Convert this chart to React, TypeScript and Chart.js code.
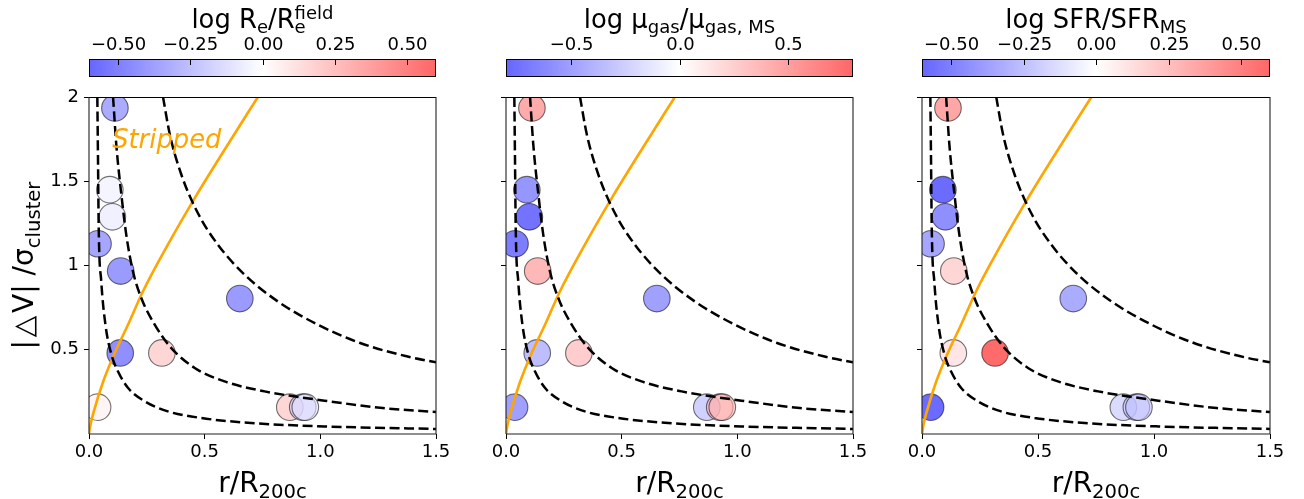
import React, { useEffect, useRef } from 'react';
import { Chart, registerables } from 'chart.js';

Chart.register(...registerables);

// ---------- data ----------
const galaxyR = [0.112, 0.09, 0.101, 0.039, 0.137, 0.652, 0.135, 0.315, 0.037, 0.868, 0.924, 0.935];
const galaxyV = [1.935, 1.45, 1.289, 1.129, 0.967, 0.804, 0.481, 0.481, 0.159, 0.159, 0.159, 0.159];

const logReRatio = [-0.33, -0.04, -0.06, -0.35, -0.39, -0.39, -0.44, 0.16, 0.04, 0.16, -0.12, -0.07];
const logMuGas = [0.44, -0.55, -0.73, -0.68, 0.37, -0.5, -0.34, 0.26, -0.5, -0.24, 0.24, 0.24];
const logSfrRatio = [0.35, -0.58, -0.44, -0.35, 0.16, -0.33, 0.1, 0.58, -0.58, -0.14, -0.14, -0.14];

const innerX = [0.036, 0.039, 0.042, 0.053, 0.071, 0.097, 0.125, 0.169, 0.241, 0.341, 0.485, 0.701, 1.018, 1.5];
const innerY = [2.0, 1.618, 1.223, 0.906, 0.649, 0.471, 0.372, 0.273, 0.194, 0.134, 0.095, 0.065, 0.045, 0.03];
const middleX = [0.104, 0.118, 0.14, 0.161, 0.19, 0.226, 0.284, 0.356, 0.457, 0.586, 0.759, 1.018, 1.27, 1.5];
const middleY = [2.0, 1.717, 1.42, 1.183, 0.965, 0.807, 0.649, 0.51, 0.392, 0.312, 0.253, 0.198, 0.154, 0.13];
const outerX = [0.32, 0.349, 0.399, 0.471, 0.557, 0.673, 0.816, 0.989, 1.172, 1.373, 1.5];
const outerY = [2.0, 1.78, 1.54, 1.31, 1.124, 0.945, 0.787, 0.649, 0.54, 0.461, 0.425];
const strippedX = [0, 0.005, 0.02, 0.061, 0.111, 0.169, 0.233, 0.341, 0.457, 0.586, 0.73];
const strippedY = [0, 0.045, 0.13, 0.31, 0.48, 0.65, 0.846, 1.124, 1.4, 1.687, 2.0];

const xTicks = [0, 0.5, 1, 1.5];
const xTickLabels = ['0.0', '0.5', '1.0', '1.5'];
const yTicks = [0.5, 1, 1.5, 2];
const yTickLabels = ['0.5', '1', '1.5', '2'];

const cbarTicksA = [-0.5, -0.25, 0, 0.25, 0.5];
const cbarLabelsA = ['\u22120.50', '\u22120.25', '0.00', '0.25', '0.50'];
const cbarTicksB = [-0.5, 0, 0.5];
const cbarLabelsB = ['\u22120.5', '0.0', '0.5'];
const cbarRangeRe = [-0.6, 0.6];
const cbarRangeMu = [-0.8, 0.8];
const cbarRangeSfr = [-0.6, 0.6];

// ---------- helpers ----------
const FAMILY = '"DejaVu Sans", sans-serif';
const W = 1304;
const H = 499;
const AREA_TOP = 97;
const AREA_BOTTOM = 434;

function bwr(n: number): [number, number, number] {
  const t = Math.max(0, Math.min(1, n));
  if (t < 0.5) return [2 * t, 2 * t, 1];
  return [1, 2 * (1 - t), 2 * (1 - t)];
}
function cmap(v: number, lo: number, hi: number, alpha: number) {
  const [r, g, b] = bwr((v - lo) / (hi - lo));
  return `rgba(${Math.round(r * 255)},${Math.round(g * 255)},${Math.round(b * 255)},${alpha})`;
}

type Part = { t: string; s?: number; dy?: number; sup?: string; supDy?: number; italic?: boolean };

function partFont(size: number, italic?: boolean) {
  return `${italic ? 'italic ' : ''}${size}px ${FAMILY}`;
}

function drawRich(ctx: CanvasRenderingContext2D, parts: Part[], x: number, y: number, base: number, align: 'center' | 'left') {
  const widths = parts.map((p) => {
    const sz = base * (p.s ?? 1);
    ctx.font = partFont(sz, p.italic);
    let w = ctx.measureText(p.t).width;
    if (p.sup) w = Math.max(w, ctx.measureText(p.sup).width);
    return w;
  });
  const total = widths.reduce((a, b) => a + b, 0);
  let cx = align === 'center' ? x - total / 2 : x;
  ctx.textAlign = 'left';
  ctx.textBaseline = 'alphabetic';
  parts.forEach((p, i) => {
    const sz = base * (p.s ?? 1);
    ctx.font = partFont(sz, p.italic);
    ctx.fillText(p.t, cx, y + (p.dy ?? 0));
    if (p.sup) ctx.fillText(p.sup, cx, y + (p.supDy ?? 0));
    cx += widths[i];
  });
}

function lineDataset(xs: number[], ys: number[], color: string, width: number, dash: number[]) {
  return {
    type: 'line' as const,
    data: xs.map((x, i) => ({ x, y: ys[i] })),
    borderColor: color,
    borderWidth: width,
    borderDash: dash,
    pointRadius: 0,
    pointHoverRadius: 0,
    fill: false,
    cubicInterpolationMode: 'monotone' as const,
    order: 1,
    clip: 0,
  };
}

type PanelCfg = {
  values: number[];
  range: number[];
  cbTicks: number[];
  cbLabels: string[];
  title: Part[];
  left: number;
  right: number;
  yTitle: boolean;
  stripped: boolean;
};

const panels: PanelCfg[] = [
  {
    values: logReRatio,
    range: cbarRangeRe,
    cbTicks: cbarTicksA,
    cbLabels: cbarLabelsA,
    title: [
      { t: 'log R' },
      { t: 'e', s: 0.7, dy: 5 },
      { t: '/R' },
      { t: 'e', s: 0.7, dy: 5, sup: 'field', supDy: -9 },
    ],
    left: 89,
    right: 436,
    yTitle: true,
    stripped: true,
  },
  {
    values: logMuGas,
    range: cbarRangeMu,
    cbTicks: cbarTicksB,
    cbLabels: cbarLabelsB,
    title: [
      { t: 'log \u03bc' },
      { t: 'gas', s: 0.7, dy: 5 },
      { t: '/\u03bc' },
      { t: 'gas, MS', s: 0.7, dy: 5 },
    ],
    left: 506,
    right: 853,
    yTitle: false,
    stripped: false,
  },
  {
    values: logSfrRatio,
    range: cbarRangeSfr,
    cbTicks: cbarTicksA,
    cbLabels: cbarLabelsA,
    title: [{ t: 'log SFR/SFR' }, { t: 'MS', s: 0.7, dy: 5 }],
    left: 922,
    right: 1270,
    yTitle: false,
    stripped: false,
  },
];

function Panel({ cfg }: { cfg: PanelCfg }) {
  const ref = useRef<HTMLCanvasElement>(null);
  useEffect(() => {
    const canvas = ref.current;
    if (!canvas) return;
    const [lo, hi] = cfg.range;
    const deco = {
      id: 'deco',
      afterDraw(chart: any) {
        const ctx: CanvasRenderingContext2D = chart.ctx;
        const a = chart.chartArea;
        ctx.save();
        // spines
        ctx.strokeStyle = '#000';
        ctx.lineWidth = 1.1;
        ctx.beginPath();
        ctx.moveTo(a.left, a.top + 0.5);
        ctx.lineTo(a.right, a.top + 0.5);
        ctx.stroke();
        ctx.strokeStyle = '#222';
        ctx.beginPath();
        ctx.moveTo(a.left, a.top);
        ctx.lineTo(a.left, a.bottom);
        ctx.moveTo(a.right, a.top);
        ctx.lineTo(a.right, a.bottom);
        ctx.moveTo(a.left, a.bottom);
        ctx.lineTo(a.right, a.bottom);
        ctx.stroke();

        // colorbar
        const cbTop = 59;
        const cbH = 17;
        const grad = ctx.createLinearGradient(a.left, 0, a.right, 0);
        for (let k = 0; k <= 50; k++) {
          const n = k / 50;
          grad.addColorStop(n, cmap(lo + n * (hi - lo), lo, hi, 0.6));
        }
        ctx.fillStyle = grad;
        ctx.fillRect(a.left, cbTop, a.right - a.left, cbH);
        ctx.strokeStyle = '#000';
        ctx.lineWidth = 1;
        ctx.strokeRect(a.left + 0.5, cbTop + 0.5, a.right - a.left - 1, cbH);
        ctx.fillStyle = '#000';
        ctx.font = partFont(18);
        ctx.textAlign = 'center';
        ctx.textBaseline = 'alphabetic';
        cfg.cbTicks.forEach((v, i) => {
          const px = Math.round(a.left + ((v - lo) / (hi - lo)) * (a.right - a.left)) + 0.5;
          ctx.beginPath();
          ctx.moveTo(px, cbTop);
          ctx.lineTo(px, cbTop + 6);
          ctx.stroke();
          ctx.fillText(cfg.cbLabels[i], px, 50);
        });
        // colorbar title
        drawRich(ctx, cfg.title, (a.left + a.right) / 2, 28, 25.8, 'center');

        // x label
        drawRich(ctx, [{ t: 'r/R' }, { t: '200c', s: 0.7, dy: 5.5 }], (a.left + a.right) / 2, 492, 28, 'center');

        // y label
        if (cfg.yTitle) {
          ctx.save();
          ctx.translate(33, (a.top + a.bottom) / 2);
          ctx.rotate(-Math.PI / 2);
          drawRich(ctx, [{ t: '|\u200a\u25b3\u200aV| /\u03c3' }, { t: 'cluster', s: 0.7, dy: 6.5 }], 0, 0, 28, 'center');
          ctx.restore();
        }

        if (cfg.stripped) {
          ctx.fillStyle = '#FFA500';
          const sx = chart.scales.x.getPixelForValue(0.1);
          const sy = chart.scales.y.getPixelForValue(1.7);
          ctx.font = partFont(25.8, true);
          ctx.textAlign = 'left';
          ctx.fillText('Stripped', sx, sy);
        }
        ctx.restore();
      },
    };

    const tickFont = { family: 'DejaVu Sans', size: 18 };
    const chart = new Chart(canvas, {
      type: 'scatter',
      data: {
        datasets: [
          {
            type: 'scatter',
            data: galaxyR.map((x, i) => ({ x, y: galaxyV[i] })),
            pointRadius: 13.3,
            pointHoverRadius: 13.3,
            pointBackgroundColor: cfg.values.map((v) => cmap(v, lo, hi, 0.6)),
            pointBorderColor: 'rgba(0,0,0,0.55)',
            pointBorderWidth: 1.1,
            order: 2,
            clip: 0,
          } as any,
          lineDataset(innerX, innerY, '#000', 2.5, [10, 4.5]) as any,
          lineDataset(middleX, middleY, '#000', 2.5, [10, 4.5]) as any,
          lineDataset(outerX, outerY, '#000', 2.5, [10, 4.5]) as any,
          lineDataset(strippedX, strippedY, '#FFA500', 2.6, []) as any,
        ],
      },
      options: {
        animation: false,
        responsive: false,
        events: [],
        layout: {
          padding: { left: cfg.left - 50, right: W - cfg.right, top: AREA_TOP, bottom: H - AREA_BOTTOM - 40 },
        },
        plugins: { legend: { display: false }, tooltip: { enabled: false } },
        scales: {
          x: {
            type: 'linear',
            min: 0,
            max: 1.5,
            afterBuildTicks: (s: any) => {
              s.ticks = xTicks.map((v) => ({ value: v }));
            },
            afterFit: (s: any) => {
              s.height = 40;
            },
            ticks: {
              callback: (v: any) => xTickLabels[xTicks.indexOf(Number(v))],
              font: tickFont,
              color: '#000',
              padding: 3,
              maxRotation: 0,
              autoSkip: false,
            },
            grid: { display: true, drawOnChartArea: false, drawTicks: true, tickLength: 5, color: '#000', lineWidth: 1 },
            border: { display: false },
          },
          y: {
            type: 'linear',
            min: 0,
            max: 2,
            afterBuildTicks: (s: any) => {
              s.ticks = yTicks.map((v) => ({ value: v }));
            },
            afterFit: (s: any) => {
              s.width = 50;
            },
            ticks: {
              callback: (v: any) => (cfg.yTitle ? yTickLabels[yTicks.indexOf(Number(v))] : ''),
              font: tickFont,
              color: '#000',
              padding: 5,
              autoSkip: false,
            },
            grid: { display: true, drawOnChartArea: false, drawTicks: true, tickLength: 5, color: '#000', lineWidth: 1 },
            border: { display: false },
          },
        },
      } as any,
      plugins: [deco],
    });
    return () => chart.destroy();
  }, [cfg]);
  return (
    <canvas
      ref={ref}
      width={W}
      height={H}
      style={{ position: 'absolute', left: 0, top: 0, width: W, height: H }}
    />
  );
}

export default function App() {
  return (
    <div style={{ position: 'absolute', left: 0, top: 0, width: W, height: H, background: '#fff' }}>
      {panels.map((p, i) => (
        <Panel key={i} cfg={p} />
      ))}
    </div>
  );
}
